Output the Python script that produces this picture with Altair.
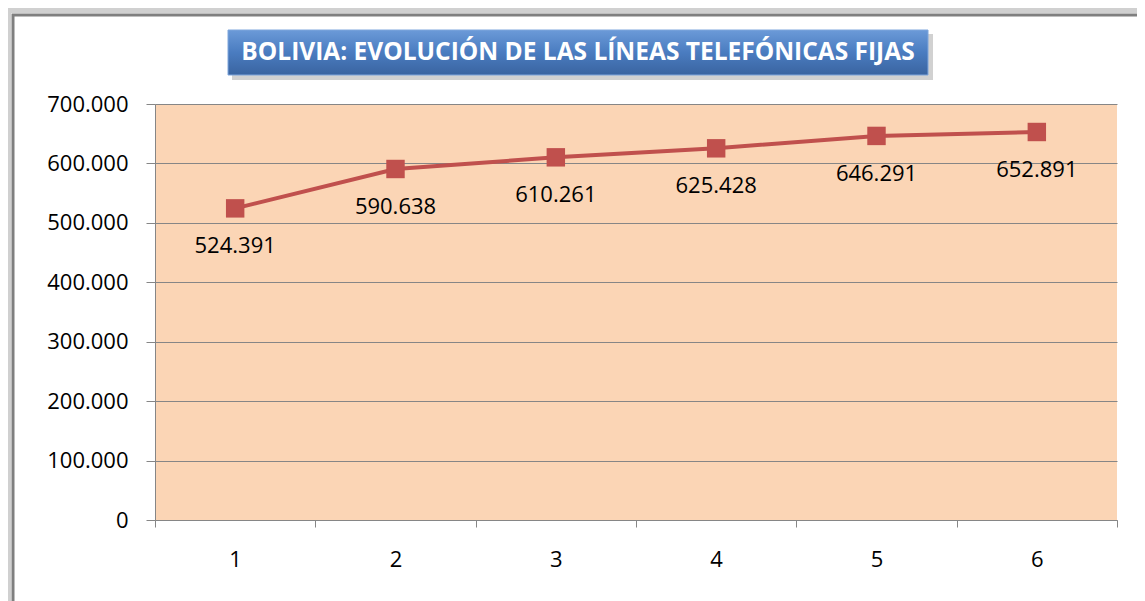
import altair as alt
import pandas as pd

categories = ["1", "2", "3", "4", "5", "6"]
values = [524391, 590638, 610261, 625428, 646291, 652891]
labels = ["524.391", "590.638", "610.261", "625.428", "646.291", "652.891"]
y_ticks = [0, 100000, 200000, 300000, 400000, 500000, 600000, 700000]
title_text = "BOLIVIA: EVOLUCIÓN DE LAS LÍNEAS TELEFÓNICAS FIJAS"

FONT = "Open Sans"
GRAY = "#868686"
RED = "#C0504D"

df = pd.DataFrame({"cat": categories, "value": values, "label": labels})
one = alt.Data(values=[{"k": 0}])

x_enc = alt.X(
    "cat:O", sort=categories,
    scale=alt.Scale(paddingInner=0, paddingOuter=0),
    axis=alt.Axis(title=None, labelAngle=0, tickBand="extent", tickSize=7,
                  tickColor=GRAY, domainColor=GRAY, labelPadding=22,
                  labelFontSize=22, labelFont=FONT, labelColor="black",
                  labelFontWeight="normal", grid=False),
    bandPosition=0.5,
)
y_enc = alt.Y(
    "value:Q",
    scale=alt.Scale(domain=[0, 700000], nice=False),
    axis=alt.Axis(title=None, values=y_ticks,
                  labelExpr="replace(format(datum.value, ',d'), ',', '.')",
                  tickSize=9, tickColor=GRAY, domainColor=GRAY,
                  labelPadding=18, labelFontSize=22, labelFont=FONT,
                  labelColor="black", grid=True, gridColor=GRAY, gridWidth=1),
)

base = alt.Chart(df).encode(x=x_enc, y=y_enc)
line = base.mark_line(color=RED, strokeWidth=4)
points = base.mark_point(shape="square", filled=True, size=340, color=RED, opacity=1)
text = base.mark_text(dy=38, fontSize=22, font=FONT, color="black").encode(text="label:N")

# decorative frame and title box
frame_shadow = alt.Chart(one).mark_rect(
    fillOpacity=0, stroke="#d0d0d0", strokeWidth=8
).encode(x=alt.value(-148), x2=alt.value(990), y=alt.value(-95), y2=alt.value(530))
frame = alt.Chart(one).mark_rect(
    fillOpacity=0, stroke="#7f7f7f", strokeWidth=3
).encode(x=alt.value(-142), x2=alt.value(985), y=alt.value(-89), y2=alt.value(530))
title_shadow = alt.Chart(one).mark_rect(
    color="#9a9a9a", opacity=0.45
).encode(x=alt.value(77), x2=alt.value(778), y=alt.value(-70), y2=alt.value(-24))
title_box = alt.Chart(one).mark_rect(
    color=alt.Gradient(gradient="linear", x1=0, y1=0, x2=0, y2=1,
                       stops=[alt.GradientStop(offset=0, color="#6B9AD8"),
                              alt.GradientStop(offset=0.5, color="#4A7CC0"),
                              alt.GradientStop(offset=1, color="#3A64A0")]),
    stroke="#7fa6dc", strokeWidth=1
).encode(x=alt.value(73), x2=alt.value(773), y=alt.value(-74), y2=alt.value(-29))
title = alt.Chart(one).mark_text(
    font=FONT, fontSize=24.5, fontWeight="bold", color="white", baseline="middle"
).encode(x=alt.value(423), y=alt.value(-51), text=alt.value(title_text))

chart = alt.layer(
    frame_shadow, frame, title_shadow, title_box, title, line, points, text
).properties(
    width=962, height=416,
    background="white",
    autosize=alt.AutoSizeParams(type="none"),
    padding={"left": 147, "top": 96, "right": 20, "bottom": 81},
).configure_view(fill="#FBD5B5", stroke=None)

chart.save("out.html", embed_options={"renderer": "svg", "actions": False})
